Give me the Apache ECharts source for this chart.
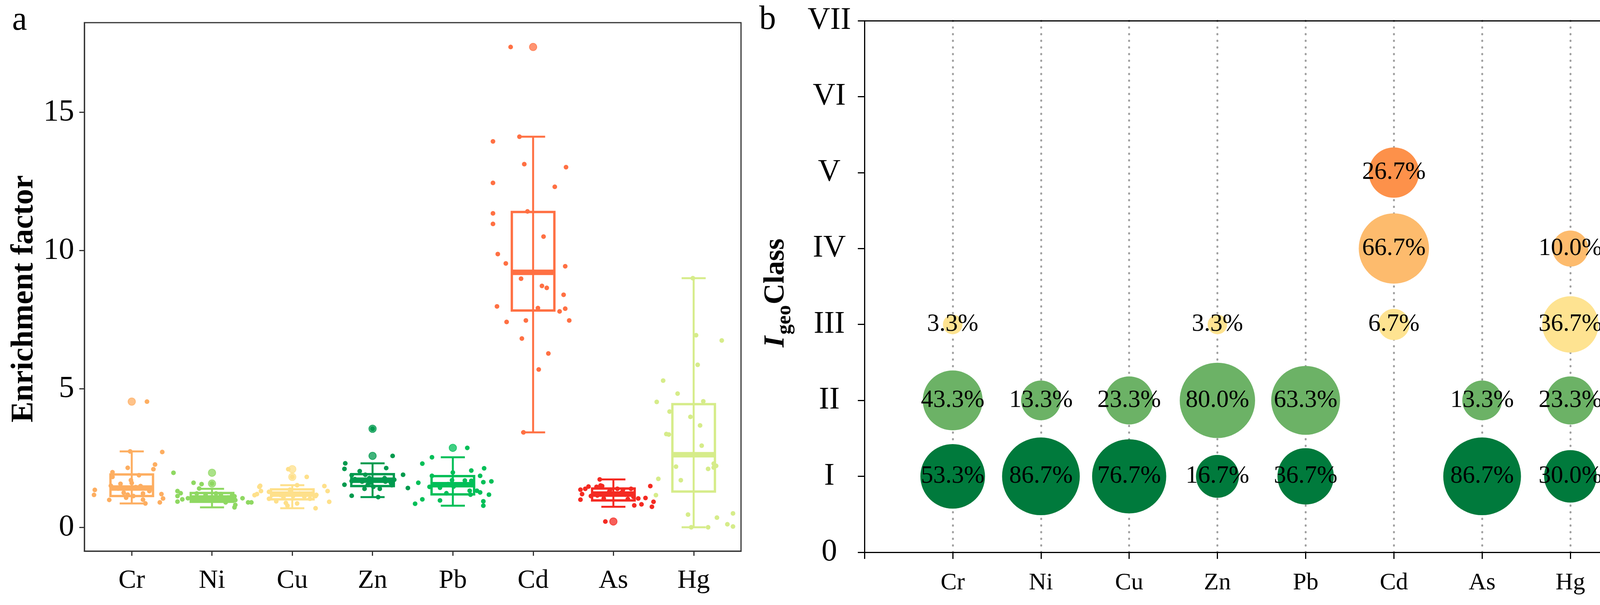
<!DOCTYPE html>
<html>
<head>
<meta charset="utf-8">
<script src="https://cdn.jsdelivr.net/npm/echarts@6/dist/echarts.min.js"></script>
<style>
html,body{margin:0;padding:0;background:#ffffff;}
#c{width:4273px;height:1549px;}
</style>
</head>
<body>
<div id="c"></div>
<script>
// ---------- categories ----------
const elements = ['Cr', 'Ni', 'Cu', 'Zn', 'Pb', 'Cd', 'As', 'Hg'];
const classLabels = ['0', 'I', 'II', 'III', 'IV', 'V', 'VI', 'VII'];

// ---------- panel a: enrichment factor samples ----------
const valCr = [4.54, 2.74, 2.72, 2.15, 2.27, 2.10, 1.99, 1.88, 1.82, 1.70, 1.57, 1.60, 1.50, 1.49, 1.35, 1.17, 1.25, 1.18, 1.22, 1.31, 1.20, 1.04, 1.07, 1.13, 0.99, 1.00, 0.86, 0.90, 1.40, 1.45];
const valNi = [1.97, 1.61, 1.56, 1.58, 1.40, 1.31, 1.23, 1.13, 1.05, 1.01, 0.93, 1.22, 1.22, 1.20, 1.12, 0.98, 0.90, 0.81, 0.72, 1.05, 0.90, 0.90, 1.17, 1.08, 1.08, 1.04, 0.99, 1.15, 1.10, 1.00];
const valCu = [2.10, 1.82, 1.82, 1.52, 1.46, 1.50, 1.31, 1.20, 1.16, 1.28, 1.03, 0.94, 0.88, 0.78, 0.86, 1.36, 1.17, 1.13, 1.49, 1.31, 0.92, 0.69, 1.03, 1.17, 1.22, 1.11, 1.08, 1.17, 1.13, 1.22];
const valZn = [3.56, 2.58, 2.31, 2.11, 2.14, 2.03, 1.90, 1.88, 1.90, 1.67, 1.72, 1.78, 1.54, 1.52, 1.42, 1.39, 1.39, 1.53, 1.46, 1.14, 1.09, 1.70, 1.65, 1.70, 1.65, 1.74, 1.78, 1.60, 1.62];
const valPb = [2.87, 2.53, 2.30, 2.13, 2.05, 1.98, 1.86, 1.86, 1.63, 1.66, 1.70, 1.69, 1.68, 1.61, 1.46, 1.55, 1.43, 1.47, 1.32, 1.32, 1.26, 1.23, 1.18, 1.18, 1.01, 0.97, 0.85, 0.94, 0.78, 1.56];
const valCd = [17.35, 13.94, 14.11, 13.12, 13.01, 12.44, 12.30, 11.34, 11.41, 10.96, 10.50, 9.87, 9.53, 9.43, 8.98, 8.72, 8.65, 8.40, 7.98, 7.92, 7.90, 7.80, 7.42, 7.47, 7.47, 6.82, 6.28, 5.70, 3.43];
const valAs = [0.21, 1.73, 1.47, 1.46, 1.49, 1.39, 1.36, 1.39, 1.36, 1.13, 1.04, 1.02, 1.04, 1.06, 1.49, 0.92, 0.79, 0.83, 0.74, 1.36, 1.39, 1.20, 1.00, 1.51, 1.20, 1.15, 1.25, 1.10, 1.30, 1.18];
const valHg = [9.00, 6.94, 6.75, 5.87, 5.30, 4.83, 4.53, 4.55, 4.18, 3.99, 3.68, 3.37, 3.35, 2.95, 2.30, 2.22, 2.16, 2.19, 2.11, 1.70, 1.75, 1.16, 0.46, 0.35, 0.50, 0.11, 0.03, 0.00, 0.00];

// horizontal jitter of each sample (category units)
const jitCr = [0.19, -0.02, 0.38, -0.05, 0.29, 0.27, -0.24, 0.09, -0.24, -0.01, -0.14, 0.00, -0.26, 0.11, -0.46, -0.47, -0.10, -0.05, 0.14, 0.22, 0.37, 0.39, -0.07, 0.02, -0.28, 0.14, 0.17, 0.35, -0.17, 0.05];
const jitNi = [-0.48, -0.23, -0.13, 0.00, -0.16, -0.43, -0.39, -0.43, -0.30, -0.37, -0.43, -0.19, 0.05, 0.11, 0.28, 0.29, 0.17, 0.29, 0.28, 0.38, 0.45, 0.49, -0.08, -0.02, 0.20, -0.24, 0.08, 0.25, 0.12, -0.12];
const jitCu = [-0.05, 0.00, 0.18, 0.06, -0.41, -0.40, -0.39, -0.44, -0.47, -0.29, -0.29, -0.20, -0.08, -0.06, 0.06, -0.03, 0.30, 0.29, 0.40, 0.44, 0.46, 0.29, 0.22, -0.15, 0.09, 0.15, -0.11, -0.25, 0.01, 0.24];
const jitZn = [0.00, 0.25, -0.34, -0.35, 0.17, -0.16, 0.38, -0.26, -0.09, -0.26, 0.27, 0.15, -0.35, 0.24, 0.44, -0.10, 0.09, -0.06, 0.01, -0.26, 0.07, -0.19, -0.13, 0.08, 0.16, -0.22, -0.04, 0.23, -0.02];
const jitPb = [0.18, -0.26, -0.38, 0.39, 0.23, 0.00, -0.26, 0.34, 0.38, 0.48, -0.01, 0.15, 0.23, -0.43, -0.29, -0.19, -0.16, 0.01, 0.21, 0.30, 0.34, -0.08, 0.22, 0.45, -0.38, -0.16, -0.47, 0.38, 0.38, -0.06];
const jitCd = [-0.28, -0.50, -0.17, -0.11, 0.41, -0.50, 0.27, -0.50, -0.07, -0.50, 0.13, -0.44, -0.34, 0.40, -0.15, 0.11, 0.17, 0.38, -0.45, 0.06, 0.40, 0.33, -0.33, -0.09, 0.45, -0.14, 0.19, 0.07, -0.12];
const jitAs = [-0.10, -0.17, -0.31, -0.21, -0.14, 0.05, 0.12, 0.22, -0.04, -0.28, -0.12, 0.18, 0.31, 0.40, 0.46, 0.50, 0.26, 0.35, 0.48, -0.41, -0.35, -0.39, -0.41, -0.16, 0.00, -0.20, 0.10, 0.25, -0.05, 0.15];
const jitHg = [-0.01, 0.03, 0.35, 0.05, -0.38, -0.20, -0.46, 0.12, -0.30, -0.04, 0.08, -0.34, -0.31, 0.10, 0.25, 0.28, 0.25, -0.22, 0.18, -0.16, -0.44, -0.47, -0.07, 0.29, 0.49, 0.42, 0.49, -0.03, 0.18];

// box statistics: [lower whisker, Q1, median, Q3, upper whisker]
const boxCr = [0.86, 1.13, 1.42, 1.91, 2.74];
const boxNi = [0.72, 0.92, 1.06, 1.24, 1.39];
const boxCu = [0.69, 1.01, 1.20, 1.37, 1.52];
const boxZn = [1.09, 1.49, 1.70, 1.92, 2.31];
const boxPb = [0.78, 1.19, 1.54, 1.85, 2.53];
const boxCd = [3.43, 7.83, 9.21, 11.39, 14.11];
const boxAs = [0.74, 0.97, 1.20, 1.40, 1.73];
const boxHg = [0.00, 1.29, 2.62, 4.45, 9.00];

// boxplot outliers
const outCr = [4.54];
const outNi = [1.97, 1.58];
const outCu = [2.10, 1.82];
const outZn = [3.56, 2.58];
const outPb = [2.87];
const outCd = [17.35];
const outAs = [0.21];
const outHg = [];

// ---------- panel b: Igeo class percentages ----------
const igeoClassI   = [53.3, 86.7, 76.7, 16.7, 36.7, null, 86.7, 30.0];
const igeoClassII  = [43.3, 13.3, 23.3, 80.0, 63.3, null, 13.3, 23.3];
const igeoClassIII = [3.3, null, null, 3.3, null, 6.7, null, 36.7];
const igeoClassIV  = [null, null, null, null, null, 66.7, null, 10.0];
const igeoClassV   = [null, null, null, null, null, 26.7, null, null];

// ---------- styles ----------
const FONT = 'Liberation Serif';
const efColors = ['#FDAE61', '#8FD862', '#FEE08B', '#009A4E', '#00BF58', '#FF7043', '#F42A22', '#D6EC8A'];
const classColors = ['#007A3C', '#6CB266', '#FEE391', '#FDBB6D', '#FD914A'];

const efVals = [valCr, valNi, valCu, valZn, valPb, valCd, valAs, valHg];
const efJit = [jitCr, jitNi, jitCu, jitZn, jitPb, jitCd, jitAs, jitHg];
const efBox = [boxCr, boxNi, boxCu, boxZn, boxPb, boxCd, boxAs, boxHg];
const efOut = [outCr, outNi, outCu, outZn, outPb, outCd, outAs, outHg];
const igeo = [igeoClassI, igeoClassII, igeoClassIII, igeoClassIV, igeoClassV];

const allPct = igeo.flat().filter(v => v != null);
const pMin = Math.min(...allPct), pMax = Math.max(...allPct);
const bubbleSize = p => 50 + 149 * Math.sqrt((p - pMin) / (pMax - pMin));

const series = [];

// box + whiskers
series.push({
  type: 'custom',
  xAxisIndex: 0, yAxisIndex: 0,
  z: 2,
  encode: {x: 0, y: [1, 2, 3, 4, 5]},
  data: elements.map((e, i) => [i].concat(efBox[i])),
  renderItem: function (params, api) {
    const i = api.value(0);
    const c = efColors[i];
    const lo = api.coord([i, api.value(1)]);
    const q1 = api.coord([i, api.value(2)]);
    const md = api.coord([i, api.value(3)]);
    const q3 = api.coord([i, api.value(4)]);
    const hi = api.coord([i, api.value(5)]);
    const bw = api.size([0.53, 0])[0];
    const cw = api.size([0.30, 0])[0];
    const x = lo[0];
    return {
      type: 'group',
      children: [
        {type: 'line', shape: {x1: x, y1: hi[1], x2: x, y2: lo[1]}, style: {stroke: c, lineWidth: 5}},
        {type: 'line', shape: {x1: x - cw / 2, y1: hi[1], x2: x + cw / 2, y2: hi[1]}, style: {stroke: c, lineWidth: 5}},
        {type: 'line', shape: {x1: x - cw / 2, y1: lo[1], x2: x + cw / 2, y2: lo[1]}, style: {stroke: c, lineWidth: 5}},
        {type: 'rect', shape: {x: x - bw / 2, y: q3[1], width: bw, height: q1[1] - q3[1]}, style: {fill: 'none', stroke: c, lineWidth: 6}},
        {type: 'line', shape: {x1: x - bw / 2, y1: md[1], x2: x + bw / 2, y2: md[1]}, style: {stroke: c, lineWidth: 14}}
      ]
    };
  }
});

// outliers
series.push({
  type: 'scatter',
  xAxisIndex: 0, yAxisIndex: 0,
  z: 3,
  symbolSize: 19,
  data: efOut.flatMap((arr, i) => arr.map(v => ({
    value: [i, v],
    itemStyle: {color: efColors[i], opacity: 0.75, borderColor: efColors[i], borderWidth: 2}
  })))
});

// jittered samples
elements.forEach((e, i) => {
  series.push({
    type: 'scatter',
    name: e,
    xAxisIndex: 0, yAxisIndex: 0,
    z: 4,
    symbolSize: 12,
    itemStyle: {color: efColors[i], opacity: 1},
    data: efVals[i].map((v, k) => [i + efJit[i][k], v])
  });
});

// Igeo bubbles
igeo.forEach((arr, ci) => {
  series.push({
    type: 'scatter',
    xAxisIndex: 1, yAxisIndex: 1,
    z: 5,
    itemStyle: {color: classColors[ci], opacity: 1},
    symbolSize: d => bubbleSize(d[2]),
    label: {
      show: true, position: 'inside',
      formatter: p => p.value[2].toFixed(1) + '%',
      fontFamily: FONT, fontSize: 63, color: '#000000'
    },
    data: arr.map((p, j) => p == null ? null : [j + 1, ci + 1, p]).filter(d => d)
  });
});

// rotated Igeo title pieces (measured so they sit end to end)
const mctx = document.createElement('canvas').getContext('2d');
function tw(font, s) { mctx.font = font; return mctx.measureText(s).width; }
const fI = 'italic bold 74px "' + FONT + '"';
const fG = 'bold 52px "' + FONT + '"';
const fC = 'bold 74px "' + FONT + '"';
const wI = tw(fI, 'I') + 4, wG = tw(fG, 'geo') + 2, wC = tw(fC, 'Class');
const titleStart = 750 + (wI + wG + wC) / 2;
function vtext(x, y, txt, size, italic) {
  return {type: 'text', x: x, y: y, rotation: Math.PI / 2, style: {
    text: txt, fontFamily: FONT, fontSize: size, fontWeight: 'bold', fontStyle: italic ? 'italic' : 'normal',
    fill: '#000000', align: 'left', verticalAlign: 'middle', textAlign: 'left', textVerticalAlign: 'middle'
  }};
}

const option = {
  animation: false,
  backgroundColor: '#ffffff',
  grid: [
    {left: 216, top: 58, width: 1681, height: 1353, show: true, borderColor: '#333333', borderWidth: 3, backgroundColor: 'transparent'},
    {left: 2213, top: 53, width: 2033, height: 1361}
  ],
  xAxis: [
    {
      type: 'value', gridIndex: 0, min: -0.59, max: 7.59,
      axisLine: {show: true, onZero: false, lineStyle: {color: '#333333', width: 3}},
      axisTick: {show: true, customValues: [0, 1, 2, 3, 4, 5, 6, 7], length: 12, lineStyle: {color: '#333333', width: 3}},
      axisLabel: {customValues: [0, 1, 2, 3, 4, 5, 6, 7], formatter: v => elements[Math.round(v)] || '', fontFamily: FONT, fontSize: 68, color: '#000000', margin: 42},
      splitLine: {show: false}
    },
    {
      type: 'value', gridIndex: 1, min: 0, max: 9, interval: 1,
      axisLine: {show: true, onZero: false, lineStyle: {color: '#000000', width: 3}},
      axisTick: {show: true, length: 17, lineStyle: {color: '#000000', width: 3}},
      axisLabel: {formatter: v => (v >= 1 && v <= 8) ? elements[v - 1] : '', fontFamily: FONT, fontSize: 62, color: '#000000', margin: 48, showMinLabel: true, showMaxLabel: true},
      splitLine: {show: true, showMinLine: false, showMaxLine: false, lineStyle: {color: '#A0A0A0', width: 5, type: [1, 16], cap: 'round'}}
    },
    {
      type: 'value', gridIndex: 1, min: 0, max: 9, interval: 1, position: 'top',
      axisLine: {show: true, onZero: false, lineStyle: {color: '#000000', width: 3}},
      axisTick: {show: false}, axisLabel: {show: false}, splitLine: {show: false}
    }
  ],
  yAxis: [
    {
      type: 'value', gridIndex: 0, min: -0.86, max: 18.23,
      axisLine: {show: true, onZero: false, lineStyle: {color: '#333333', width: 3}},
      axisTick: {show: true, customValues: [0, 5, 10, 15], length: 13, lineStyle: {color: '#333333', width: 3}},
      axisLabel: {customValues: [0, 5, 10, 15], fontFamily: FONT, fontSize: 79, color: '#000000', margin: 26},
      splitLine: {show: false}
    },
    {
      type: 'value', gridIndex: 1, min: 0, max: 7, interval: 1,
      axisLine: {show: true, onZero: false, lineStyle: {color: '#000000', width: 3}},
      axisTick: {show: true, length: 17, lineStyle: {color: '#000000', width: 3}},
      axisLabel: {formatter: v => classLabels[v], fontFamily: FONT, fontSize: 80, color: '#000000', margin: 90, align: 'center', showMinLabel: true, showMaxLabel: true},
      splitLine: {show: false}
    }
  ],
  graphic: [
    {type: 'text', x: 50, y: 53, style: {text: 'a', fontFamily: FONT, fontSize: 86, fill: '#000000', align: 'center', verticalAlign: 'middle', textAlign: 'center', textVerticalAlign: 'middle'}},
    {type: 'text', x: 1965, y: 51, style: {text: 'b', fontFamily: FONT, fontSize: 86, fill: '#000000', align: 'center', verticalAlign: 'middle', textAlign: 'center', textVerticalAlign: 'middle'}},
    {type: 'text', x: 62, y: 765, rotation: Math.PI / 2, style: {text: 'Enrichment factor', fontFamily: FONT, fontSize: 80, fontWeight: 'bold', fill: '#000000', align: 'center', verticalAlign: 'middle', textAlign: 'center', textVerticalAlign: 'middle'}},
    vtext(1987, titleStart, 'I', 74, true),
    vtext(2010, titleStart - wI, 'geo', 52, false),
    vtext(1987, titleStart - wI - wG, 'Class', 74, false)
  ],
  series: series
};

const chart = echarts.init(document.getElementById('c'), null, {renderer: 'canvas'});
chart.setOption(option);
</script>
</body>
</html>
